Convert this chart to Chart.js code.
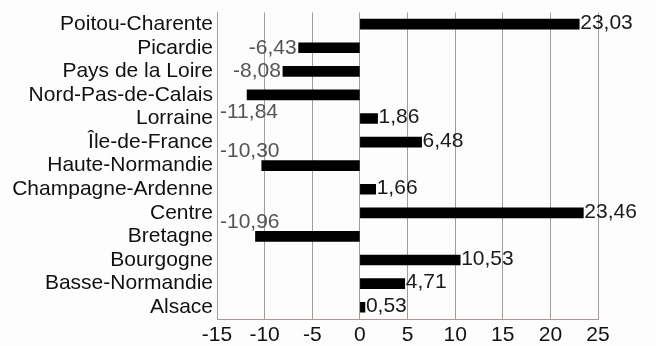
<!DOCTYPE html>
<html>
<head>
<meta charset="utf-8">
<script src="https://cdn.jsdelivr.net/npm/chart.js@4/dist/chart.umd.min.js"></script>
<style>
  html, body { margin: 0; padding: 0; background: #fdfdfd; }
  #wrap { width: 656px; height: 346px; }
</style>
</head>
<body>
<div id="wrap"><canvas id="chart"></canvas></div>
<script>
// Regions (top to bottom) and their values
const regions = ['Poitou-Charente', 'Picardie', 'Pays de la Loire', 'Nord-Pas-de-Calais',
    'Lorraine', 'Île-de-France', 'Haute-Normandie', 'Champagne-Ardenne', 'Centre',
    'Bretagne', 'Bourgogne', 'Basse-Normandie', 'Alsace'];
const values = [23.03, -6.43, -8.08, -11.84, 1.86, 6.48, -10.30, 1.66, 23.46, -10.96, 10.53, 4.71, 0.53];
const xTicks = [-15, -10, -5, 0, 5, 10, 15, 20, 25];

const FONT = 'Liberation Sans, Arial, sans-serif';

// Value labels: outside bar end, except long negatives which sit near the axis
const valueLabels = {
    id: 'valueLabels',
    afterDatasetsDraw(chart) {
        const ctx = chart.ctx;
        const meta = chart.getDatasetMeta(0);
        const area = chart.chartArea;
        const place = { 3: 'below', 6: 'above', 9: 'above' };
        ctx.save();
        ctx.font = '21px ' + FONT;
        ctx.textBaseline = 'middle';
        meta.data.forEach((bar, i) => {
            const v = values[i];
            const txt = v.toFixed(2).replace('.', ',');
            let x, y = bar.y;
            if (place[i]) {
                ctx.textAlign = 'left';
                ctx.fillStyle = '#555';
                x = area.left + 3;
                y = bar.y + (place[i] === 'below' ? 17 : -14);
            } else if (v < 0) {
                ctx.textAlign = 'right';
                ctx.fillStyle = '#555';
                x = bar.x - 2;
            } else {
                ctx.textAlign = 'left';
                ctx.fillStyle = '#1a1a1a';
                x = bar.x + 1;
                y = bar.y - 1;
            }
            ctx.fillText(txt, x, y);
        });
        ctx.restore();
    }
};

new Chart(document.getElementById('chart'), {
    type: 'bar',
    data: {
        labels: regions,
        datasets: [{
            data: values,
            backgroundColor: '#000',
            barThickness: 10
        }]
    },
    options: {
        indexAxis: 'y',
        responsive: true,
        maintainAspectRatio: false,
        animation: false,
        layout: { padding: { top: 0, right: 58, left: 0, bottom: 0 } },
        plugins: {
            legend: { display: false },
            tooltip: { enabled: false }
        },
        scales: {
            x: {
                min: -15,
                max: 25,
                afterBuildTicks(axis) {
                    axis.ticks = xTicks.map(v => ({ value: v }));
                },
                afterFit(axis) { axis.height = 27; },
                grid: { color: '#a89a94', lineWidth: 1, drawTicks: false },
                border: { color: '#a89a94' },
                ticks: {
                    color: '#111',
                    padding: 4,
                    font: { family: FONT, size: 21 }
                }
            },
            y: {
                afterFit(axis) { axis.width = 217; },
                grid: { display: false, drawTicks: false },
                border: { color: '#a89a94' },
                ticks: {
                    color: '#111',
                    padding: 4,
                    autoSkip: false,
                    font: { family: FONT, size: 21, lineHeight: 0.8 }
                }
            }
        }
    },
    plugins: [valueLabels]
});
</script>
</body>
</html>
